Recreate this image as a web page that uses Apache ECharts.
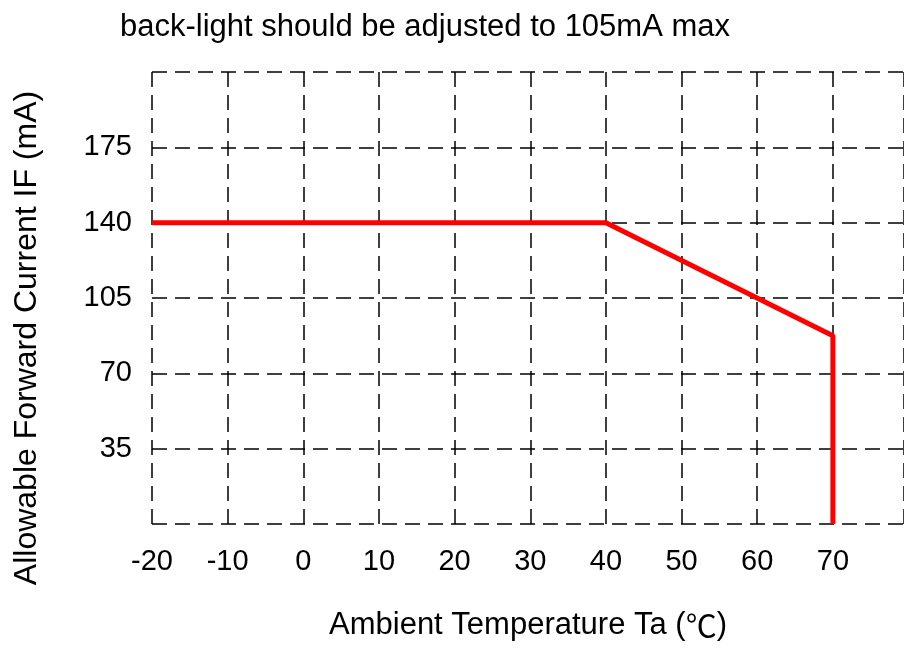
<!DOCTYPE html>
<html>
<head>
<meta charset="utf-8">
<script src="https://cdn.jsdelivr.net/npm/echarts@6/dist/echarts.min.js"></script>
<style>
  html, body { margin: 0; padding: 0; background: #fff; }
  #main { width: 904px; height: 651px; }
</style>
</head>
<body>
<div id="main"></div>
<script>
var myChart = echarts.init(document.getElementById('main'));

// derating curve
var temps = [-20, 40, 70, 70];
var current = [140, 140, 87.5, 0];
var yTicks = [35, 70, 105, 140, 175];
var xTicks = [-20, -10, 0, 10, 20, 30, 40, 50, 60, 70];

var font = 'Arial, "Liberation Sans", sans-serif';
var dash = { color: '#000', width: 1.5, type: [15, 8] };

var option = {
  animation: false,
  grid: {
    left: 152,
    right: 0,
    top: 72,
    bottom: 127,
    outerBoundsMode: 'none'
  },
  graphic: [
    {
      type: 'text',
      left: 120,
      top: 12,
      style: { text: 'back-light should be adjusted to 105mA max', fontSize: 31, fontFamily: font, fill: '#000' }
    },
    {
      type: 'text',
      x: 27,
      y: 338,
      rotation: Math.PI / 2,
      style: {
        text: 'Allowable Forward Current IF (mA)', fontSize: 32, fontFamily: font, fill: '#000',
        align: 'center', verticalAlign: 'middle'
      }
    }
  ],
  xAxis: {
    type: 'value',
    min: -20,
    max: 79.4,
    interval: 10,
    name: 'Ambient Temperature Ta ({c|℃})',
    nameLocation: 'middle',
    nameGap: 86,
    nameTextStyle: {
      fontSize: 31, fontFamily: font, color: '#000',
      rich: { c: { fontSize: 31, fontFamily: '"Noto Sans CJK SC"', color: '#000' } }
    },
    axisLine: { show: false },
    axisTick: { show: false },
    axisLabel: {
      fontSize: 29, fontFamily: font, color: '#000', margin: 23,
      formatter: function (v) { return xTicks.indexOf(v) >= 0 ? String(v) : ''; }
    },
    splitLine: { show: true, lineStyle: dash }
  },
  yAxis: {
    type: 'value',
    min: 0,
    max: 210,
    interval: 35,
    axisLine: { show: false },
    axisTick: { show: false },
    axisLabel: {
      fontSize: 29, fontFamily: font, color: '#000', margin: 20,
      formatter: function (v) { return yTicks.indexOf(v) >= 0 ? String(v) : ''; }
    },
    splitLine: { show: true, lineStyle: dash }
  },
  series: [
    {
      type: 'line',
      data: temps.map(function (t, i) { return [t, current[i]]; }),
      symbol: 'none',
      lineStyle: { color: '#ff0000', width: 5 },
      clip: false
    }
  ]
};
myChart.setOption(option);
</script>
</body>
</html>
